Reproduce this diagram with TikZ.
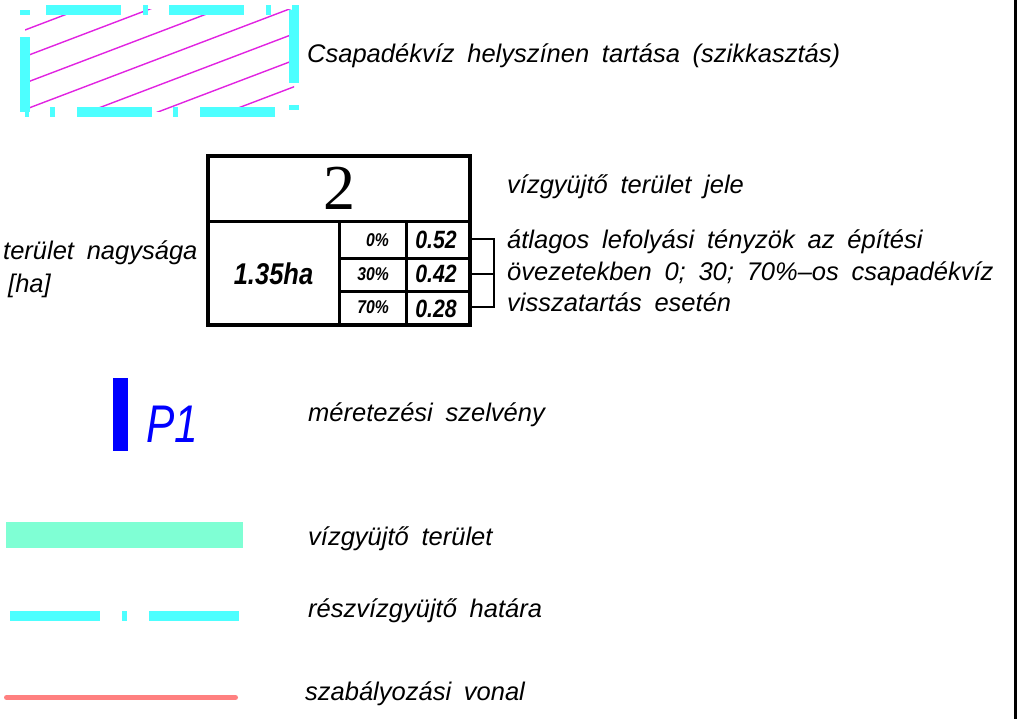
\documentclass[tikz,border=0pt]{standalone}
\usepackage{fontspec}
\setmainfont{Liberation Sans}[WordSpace=1.8]
\newfontfamily\numfont{Liberation Serif}
\newfontfamily\cadfont{Liberation Sans}[FakeStretch=0.85]
\newfontfamily\pfont{Liberation Sans}[FakeStretch=0.8]
\usepackage{xcolor}
\usepackage{tikz}
\definecolor{cyanline}{RGB}{77,255,255}
\definecolor{hatchmag}{RGB}{225,35,225}
\definecolor{aqua}{RGB}{127,255,212}
\definecolor{redline}{RGB}{255,128,128}
\definecolor{pblue}{RGB}{0,0,255}

\begin{document}
\begin{tikzpicture}[x=1pt,y=-1pt,every node/.style={inner sep=0pt},
    lbl/.style={anchor=base west,font=\fontsize{25.5}{31}\selectfont\itshape},
    val/.style={anchor=base,font=\cadfont\fontsize{25}{25}\selectfont\bfseries\itshape},
    pct/.style={anchor=base east,font=\cadfont\fontsize{18.5}{18.5}\selectfont\bfseries\itshape},
    grid/.style={line width=3.3pt},
    hatch/.style={hatchmag,line width=1.4pt},
    border/.style={cyanline,line width=10pt,dash pattern=on 75pt off 22pt on 5pt off 21pt}]
    \useasboundingbox (0,0) rectangle (1025,719);
    % szikkaszto terulet
    \begin{scope}
        \clip (25,10) rectangle (294,112);
        \foreach \c in {30,56.5,...,216}
            \draw[hatch] (25,\c) -- ++(280,-106.4);
    \end{scope}
    \draw[border] (25,112) -- (25,10) -- (294,10) -- (294,112) -- cycle;
    \node[lbl] (szikk) at (307,63) {Csapadékvíz helyszínen tartása (szikkasztás)};
    % jelmagyarazat tabla
    \draw[grid] (208,156) rectangle (470,325);
    \draw[grid] (208,221.5) -- (470,221.5) (339.5,221.5) -- (339.5,325) (406.5,221.5) -- (406.5,325)
        (339.5,258.5) -- (470,258.5) (339.5,291.5) -- (470,291.5);
    \node[font=\numfont\fontsize{64}{64}\selectfont] (jel) at (339,188) {2};
    \node[anchor=base,font=\cadfont\fontsize{30}{30}\selectfont\bfseries\itshape] (ter) at (273.5,285) {1.35ha};
    \node[pct] (p0) at (389,247) {0\%};
    \node[pct] (p30) at (389,280) {30\%};
    \node[pct] (p70) at (389,313) {70\%};
    \node[val] (v0) at (436,249) {0.52};
    \node[val] (v30) at (436,283) {0.42};
    \node[val] (v70) at (436,317) {0.28};
    \draw[line width=1.2pt] (470,239) -| (494,307) -- (470,307) (470,274) -- (494,274);
    \node[lbl] (jeltxt) at (507,194) {vízgyüjtő terület jele};
    \node[lbl] (tertxt) at (3,260) {terület nagysága};
    \node[lbl] (ha) at (8,292) {[ha]};
    \node[lbl] (atl1) at (507,249) {átlagos lefolyási tényzök az építési};
    \node[lbl] (atl2) at (507,281) {övezetekben 0; 30; 70\%--os csapadékvíz};
    \node[lbl] (atl3) at (507,312) {visszatartás esetén};
    % szelveny
    \fill[pblue] (113,378) rectangle (128,451);
    \node[anchor=base west,text=pblue,font=\pfont\fontsize{53}{53}\selectfont\itshape] (p1) at (146,442) {P1};
    \node[lbl] (szelv) at (308,421) {méretezési szelvény};
    % vonalak
    \fill[aqua] (6,522) rectangle (243,548);
    \node[lbl] (vgy) at (308,545) {vízgyüjtő terület};
    \draw[cyanline,line width=10pt,dash pattern=on 90pt off 22pt on 5pt off 22pt] (10,616) -- (240,616);
    \node[lbl] (resz) at (308,617) {részvízgyüjtő határa};
    \draw[redline,line width=5pt,line cap=round] (6.5,697.5) -- (235.5,697.5);
    \node[lbl] (szab) at (305,700) {szabályozási vonal};
    \draw[line width=2.2pt] (1015.5,0) -- (1015.5,719);
\end{tikzpicture}
\end{document}
